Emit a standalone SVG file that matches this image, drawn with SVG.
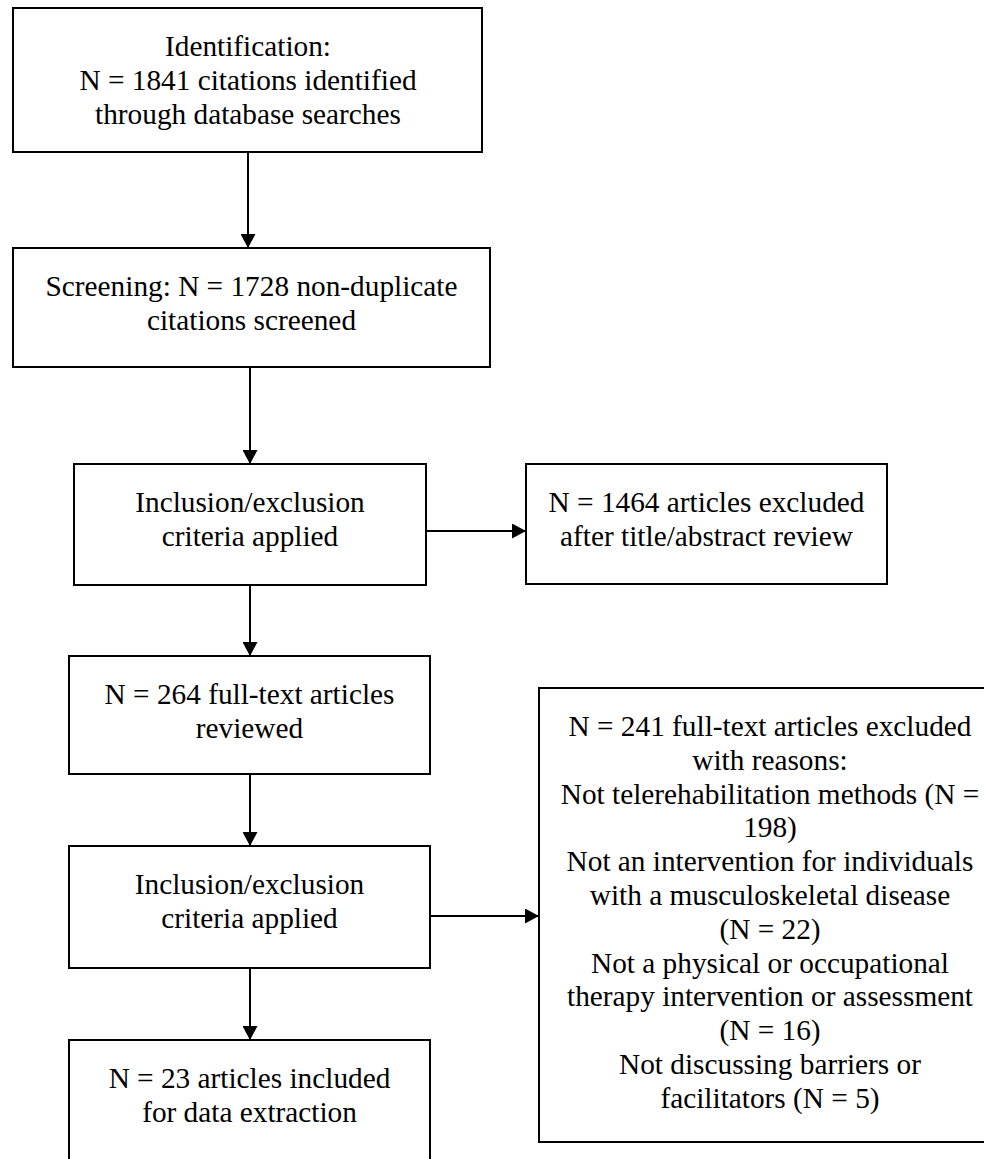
<svg xmlns="http://www.w3.org/2000/svg" width="984" height="1159" viewBox="0 0 984 1159">
<style>
.box{fill:#fff;stroke:#000;stroke-width:2}
.t{font-family:'Liberation Serif','Times New Roman','DejaVu Serif',serif;font-size:29.3px;fill:#000;text-anchor:middle}
.c{stroke:#000;stroke-width:2;fill:none;marker-end:url(#ah)}
</style>
<defs>
<marker id="ah" markerUnits="userSpaceOnUse" markerWidth="14" markerHeight="15" refX="14" refY="7.5" orient="auto">
<path d="M0,0 L14,7.5 L0,15 z" fill="#000"/>
</marker>
</defs>
<rect width="984" height="1159" fill="#fff"/>
<g id="connectors">
<line class="c" x1="248" y1="152" x2="248" y2="248"/>
<line class="c" x1="250" y1="367" x2="250" y2="464"/>
<line class="c" x1="426" y1="531" x2="526" y2="531"/>
<line class="c" x1="250" y1="585" x2="250" y2="656"/>
<line class="c" x1="250" y1="774" x2="250" y2="846"/>
<line class="c" x1="430" y1="916" x2="539" y2="916"/>
<line class="c" x1="250" y1="968" x2="250" y2="1040"/>
</g>
<g font-family="Liberation Serif, serif">
<g id="identification">
<rect class="box" x="13" y="8" width="469" height="144"/>
<text class="t" x="248" y="56">Identification:</text>
<text class="t" x="248" y="90">N = 1841 citations identified</text>
<text class="t" x="248" y="124">through database searches</text>
</g>
<g id="screening">
<rect class="box" x="13" y="248" width="477" height="119"/>
<text class="t" x="251.5" y="296">Screening: N = 1728 non-duplicate</text>
<text class="t" x="251.5" y="330">citations screened</text>
</g>
<g id="criteria1">
<rect class="box" x="74" y="464" width="352" height="121"/>
<text class="t" x="250" y="512">Inclusion/exclusion</text>
<text class="t" x="250" y="546">criteria applied</text>
</g>
<g id="excluded1">
<rect class="box" x="526" y="464" width="361" height="120"/>
<text class="t" x="706.5" y="512">N = 1464 articles excluded</text>
<text class="t" x="706.5" y="546">after title/abstract review</text>
</g>
<g id="fulltext">
<rect class="box" x="69" y="656" width="361" height="118"/>
<text class="t" x="249.5" y="704">N = 264 full-text articles</text>
<text class="t" x="249.5" y="738">reviewed</text>
</g>
<g id="criteria2">
<rect class="box" x="69" y="846" width="361" height="122"/>
<text class="t" x="249.5" y="894">Inclusion/exclusion</text>
<text class="t" x="249.5" y="928">criteria applied</text>
</g>
<g id="included">
<rect class="box" x="69" y="1040" width="361" height="130"/>
<text class="t" x="249.5" y="1088">N = 23 articles included</text>
<text class="t" x="249.5" y="1122">for data extraction</text>
</g>
<g id="excluded2">
<rect class="box" x="539" y="688" width="462" height="454"/>
<text class="t" x="770" y="736">N = 241 full-text articles excluded</text>
<text class="t" x="770" y="769.8">with reasons:</text>
<text class="t" x="770" y="803.6">Not telerehabilitation methods (N =</text>
<text class="t" x="770" y="837.4">198)</text>
<text class="t" x="770" y="871.2">Not an intervention for individuals</text>
<text class="t" x="770" y="905">with a musculoskeletal disease</text>
<text class="t" x="770" y="938.8">(N = 22)</text>
<text class="t" x="770" y="972.6">Not a physical or occupational</text>
<text class="t" x="770" y="1006.4">therapy intervention or assessment</text>
<text class="t" x="770" y="1040.2">(N = 16)</text>
<text class="t" x="770" y="1074">Not discussing barriers or</text>
<text class="t" x="770" y="1107.8">facilitators (N = 5)</text>
</g>
</g>
</svg>
